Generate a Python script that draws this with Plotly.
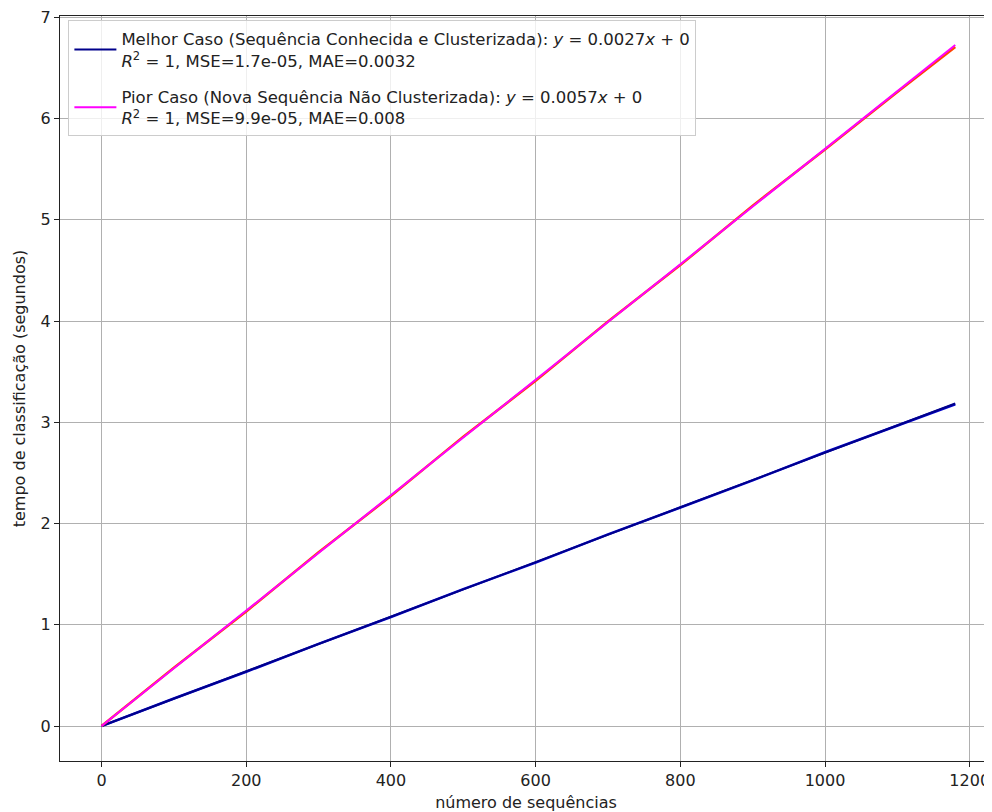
import plotly.graph_objects as go

# measured data (número de sequências vs tempo em segundos)
n_seqs = [0, 100, 200, 300, 400, 500, 600, 700, 800, 900, 1000, 1100, 1180]
best_times = [0.0, 0.272, 0.536, 0.812, 1.077, 1.352, 1.614, 1.893, 2.158, 2.426, 2.704, 2.968, 3.178]
worst_times = [0.0, 0.575, 1.132, 1.716, 2.271, 2.858, 3.409, 3.996, 4.552, 5.139, 5.693, 6.262, 6.705]

# fitted lines (endpoints)
fit_x = [0, 1180]
best_fit = [0.0, 3.186]
worst_fit = [0.0, 6.726]

best_label = ("Melhor Caso (Sequência Conhecida e Clusterizada): <i>y</i> = 0.0027<i>x</i> + 0"
              "<br><i>R</i><sup>2</sup> = 1, MSE=1.7e-05, MAE=0.0032")
worst_label = ("Pior Caso (Nova Sequência Não Clusterizada): <i>y</i> = 0.0057<i>x</i> + 0"
               "<br><i>R</i><sup>2</sup> = 1, MSE=9.9e-05, MAE=0.008")

x_ticks = [0, 200, 400, 600, 800, 1000, 1200]
y_ticks = [0, 1, 2, 3, 4, 5, 6, 7]

FONT = "DejaVu Sans"
FS = 16

fig = go.Figure()
fig.add_trace(go.Scatter(x=n_seqs, y=best_times, mode="lines",
                         line=dict(color="#0000cd", width=2.5), showlegend=False))
fig.add_trace(go.Scatter(x=fit_x, y=best_fit, mode="lines", name=best_label,
                         legendgroup="a", line=dict(color="#00008b", width=2)))
fig.add_trace(go.Scatter(x=n_seqs, y=worst_times, mode="lines",
                         line=dict(color="#ff4500", width=2.5), showlegend=False))
fig.add_trace(go.Scatter(x=fit_x, y=worst_fit, mode="lines", name=worst_label,
                         legendgroup="b", line=dict(color="#ff00ff", width=2)))

axis_common = dict(
    showgrid=True, gridcolor="#b0b0b0", gridwidth=1,
    showline=True, linecolor="#222222", linewidth=1.2, mirror=True,
    ticks="outside", ticklen=5, tickcolor="#222222", tickwidth=1,
    zeroline=False, automargin=False, ticklabeloverflow="allow",
    tickfont=dict(family=FONT, size=FS, color="#222222"),
)

fig.update_layout(
    width=984, height=804,
    paper_bgcolor="white", plot_bgcolor="white",
    margin=dict(l=52, r=0, t=8, b=51),
    font=dict(family=FONT, size=FS, color="#222222"),
    xaxis=dict(range=[-57.4, 1230.8], tickvals=x_ticks,
               title=dict(text="número de sequências", font=dict(family=FONT, size=FS), standoff=8),
               **axis_common),
    yaxis=dict(range=[-0.345, 7.012], tickvals=y_ticks,
               title=dict(text="tempo de classificação (segundos)", font=dict(family=FONT, size=FS), standoff=10),
               **axis_common),
    legend=dict(x=0.009, y=0.994, xanchor="left", yanchor="top",
                bgcolor="rgba(255,255,255,0.8)", bordercolor="#cccccc", borderwidth=1,
                font=dict(family=FONT, size=16.5, color="#222222"), valign="middle",
                itemwidth=42, traceorder="grouped", tracegroupgap=12),
)

fig.write_html("out.html")
